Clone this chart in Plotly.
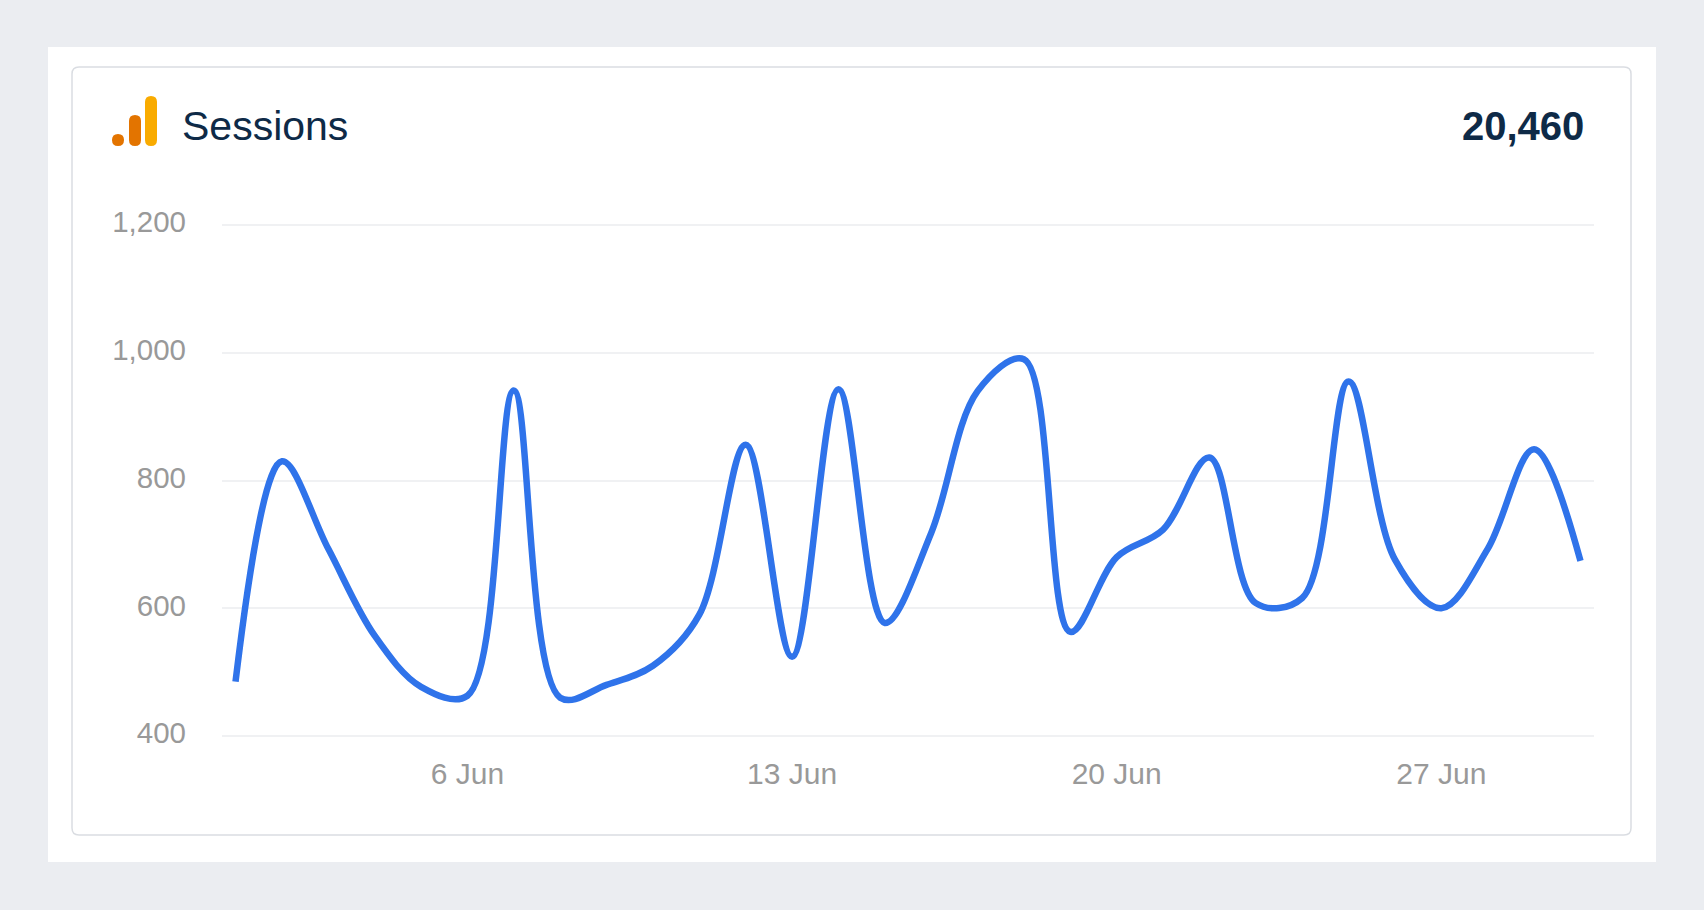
import plotly.graph_objects as go

days = list(range(1, 31))
dates = [f"2023-06-{d:02d}" for d in days]
sessions = [485, 830, 693, 557, 477, 463, 941, 460, 480, 510,
            590, 856, 524, 943, 577, 718, 940, 990, 563, 680,
            723, 836, 608, 616, 955, 676, 600, 693, 849, 674]
y_ticks = [400, 600, 800, 1000, 1200]
x_ticks = ["2023-06-06", "2023-06-13", "2023-06-20", "2023-06-27"]
x_labels = ["6 Jun", "13 Jun", "20 Jun", "27 Jun"]
title = "Sessions"
total = "20,460"

W, H = 1704, 910
FONT = "Liberation Sans, Arial, sans-serif"


def px(x):
    return x / W


def py(y):
    return 1 - y / H


def rrect(x0, y0, x1, y1, r):
    a, b, c, d = px(x0), px(x1), py(y0), py(y1)
    rx, ry = r / W, r / H
    return (f"M{a+rx},{c} L{b-rx},{c} Q{b},{c} {b},{c-ry} L{b},{d+ry} Q{b},{d} {b-rx},{d} "
            f"L{a+rx},{d} Q{a},{d} {a},{d+ry} L{a},{c-ry} Q{a},{c} {a+rx},{c} Z")


def pshape(path, fill, line=None, lw=0):
    return dict(type="path", xref="paper", yref="paper", path=path, fillcolor=fill,
                line=dict(color=line or fill, width=lw), layer="below")


shapes = [
    pshape(rrect(48, 47, 1656, 862, 0), "#ffffff"),
    pshape(rrect(72, 67, 1631, 835, 7), "#ffffff", "#dadde2", 1.5),
    pshape(rrect(145, 96, 157, 146, 6), "#F9AB00"),
    pshape(rrect(129, 115, 141, 146, 6), "#E37400"),
    pshape(rrect(112, 134, 124, 146, 6), "#E37400"),
]

fig = go.Figure(go.Scatter(
    x=dates, y=sessions, mode="lines",
    line=dict(color="#2F73EA", width=6.5, shape="spline", smoothing=1.0),
    hoverinfo="x+y", showlegend=False,
))

# y scale: 400 at 736 px, 1200 at 225 px; range padded so edge gridlines are drawn
PPU = (736 - 225) / 800
Y_PAD = 10

fig.update_layout(
    width=W, height=H,
    margin=dict(l=0, r=0, t=0, b=0),
    paper_bgcolor="#EBEDF1",
    plot_bgcolor="rgba(0,0,0,0)",
    font=dict(family=FONT, color="#999999", size=28),
    shapes=shapes,
    xaxis=dict(
        automargin=False,
        domain=[px(222), px(1594)],
        type="date",
        range=["2023-05-31 17:00", "2023-06-30 07:00"],
        tickmode="array", tickvals=x_ticks, ticktext=x_labels,
        showgrid=False, zeroline=False, showline=False, ticks="",
        tickfont=dict(size=30, color="#999999"),
        ticklabelstandoff=11,
    ),
    yaxis=dict(
        automargin=False,
        domain=[py(736 + Y_PAD * PPU), py(225 - Y_PAD * PPU)],
        range=[400 - Y_PAD, 1200 + Y_PAD],
        tickmode="array", tickvals=y_ticks, tickformat=",",
        showgrid=True, gridcolor="#F0F1F3", gridwidth=2,
        zeroline=False, showline=False, ticks="",
        tickfont=dict(size=29.5, color="#999999"),
        ticklabelstandoff=35,
        ticklabelshift=-3,
    ),
    annotations=[
        dict(text=title, xref="paper", yref="paper", x=px(180), y=py(126), xanchor="left", yanchor="middle",
             showarrow=False, font=dict(size=41, color="#0E2A47", family=FONT)),
        dict(text=f"<b>{total}</b>", xref="paper", yref="paper", x=px(1586), y=py(126), xanchor="right",
             yanchor="middle", showarrow=False, font=dict(size=40, color="#0E2A47", family=FONT)),
    ],
)

fig.write_html("out.html", config={"displayModeBar": False},
               post_script="document.body.style.margin='0';document.body.style.overflow='hidden';")
